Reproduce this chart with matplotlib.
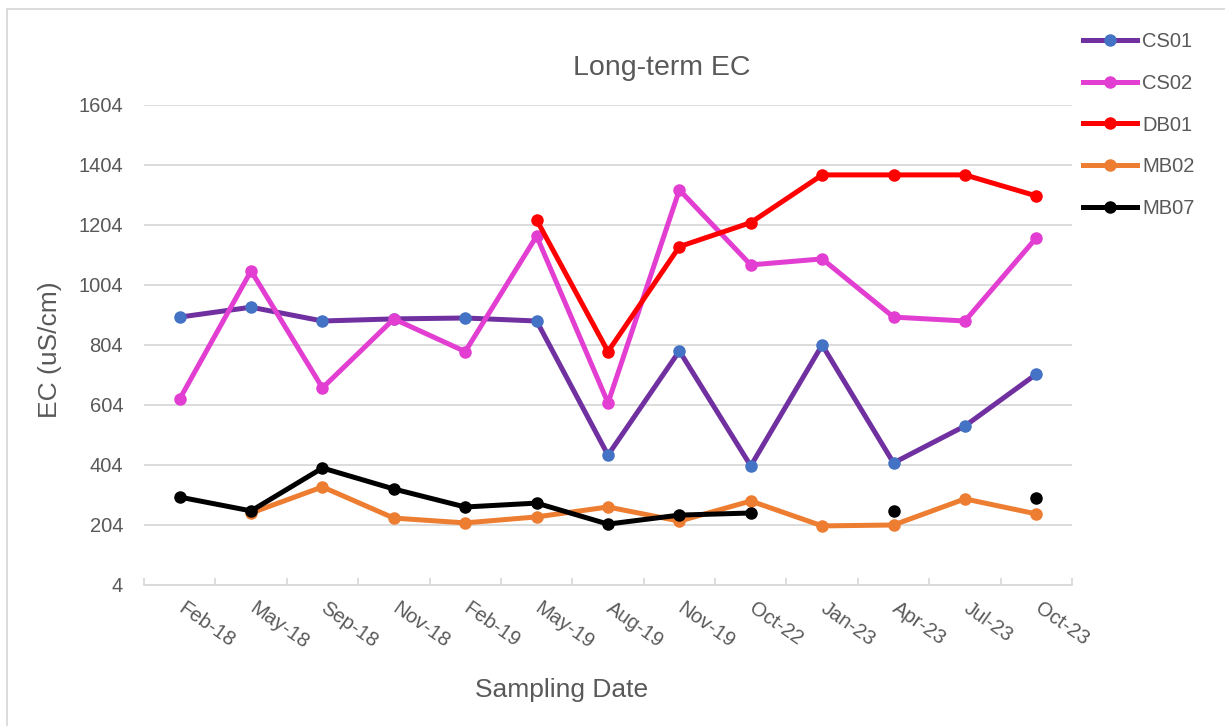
import numpy as np
import matplotlib
matplotlib.use('Agg')
from matplotlib import pyplot as plt
from matplotlib.lines import Line2D
import matplotlib.transforms as mtransforms

nan = np.nan

dates = ['Feb-18', 'May-18', 'Sep-18', 'Nov-18', 'Feb-19', 'May-19', 'Aug-19',
         'Nov-19', 'Oct-22', 'Jan-23', 'Apr-23', 'Jul-23', 'Oct-23']
cs01 = [897, 930, 884, 891, 894, 884, 437, 784, 401, 804, 411, 534, 707]
cs02 = [624, 1051, 661, 891, 782, 1167, 611, 1321, 1071, 1091, 897, 884, 1161]
db01 = [nan, nan, nan, nan, nan, 1221, 782, 1132, 1212, 1371, 1371, 1371, 1301]
mb02 = [nan, 244, 331, 227, 211, 231, 264, 217, 284, 201, 204, 291, 241]
mb07 = [297, 251, 394, 324, 264, 277, 207, 237, 244, nan, 251, nan, 294]
yticks = [4, 204, 404, 604, 804, 1004, 1204, 1404, 1604]

plt.rcParams['font.family'] = ['Liberation Sans', 'DejaVu Sans']
grey = '#595959'
gridc = '#D9D9D9'

W, H = 1225, 726
fig = plt.figure(figsize=(W / 100, H / 100), dpi=100)
ax = fig.add_axes([144 / W, 1 - 585 / H, (1072 - 144) / W, (585 - 105) / H])

x = np.arange(len(dates))
lw = 3.6
ms = 8
ax.plot(x, cs01, color='#7030A0', lw=lw, marker='o', ms=ms, mfc='#4472C4', mec='#4472C4', label='CS01')
ax.plot(x, cs02, color='#E23ED2', lw=lw, marker='o', ms=ms, label='CS02')
ax.plot(x, db01, color='#FF0000', lw=lw, marker='o', ms=ms, label='DB01')
ax.plot(x, mb02, color='#ED7D31', lw=lw, marker='o', ms=ms, label='MB02')
ax.plot(x, mb07, color='#000000', lw=lw, marker='o', ms=ms, label='MB07')

ax.set_xlim(-0.5, len(dates) - 0.5)
ax.set_ylim(4, 1604)
ax.set_yticks(yticks)
ax.set_yticklabels([str(v) for v in yticks])
ax.set_xticks(x)
ax.set_xticklabels(dates)
ax.set_xticks(np.arange(-0.5, len(dates), 1), minor=True)

for s in ['top', 'right', 'left']:
    ax.spines[s].set_visible(False)
ax.spines['bottom'].set_color(gridc)
ax.spines['bottom'].set_linewidth(1.3)
ax.grid(axis='y', color=gridc, lw=1.3)
ax.set_axisbelow(True)

ax.tick_params(axis='y', length=0, pad=15, labelsize=14.5, labelcolor=grey)
ax.tick_params(axis='x', which='major', length=0, pad=10, labelsize=14.5, labelcolor=grey)
ax.tick_params(axis='x', which='minor', direction='in', length=5, width=1.3, color=gridc)
shift = mtransforms.ScaledTranslation(0.06, 0, fig.dpi_scale_trans)
for lab in ax.get_xticklabels():
    lab.set_rotation(-35)
    lab.set_ha('left')
    lab.set_va('top')
    lab.set_rotation_mode('anchor')
    lab.set_transform(lab.get_transform() + shift)

fig.text(662 / W, 1 - 75 / H, 'Long-term EC', ha='center', va='baseline', fontsize=20.5, color=grey)
fig.text(562 / W, 1 - 697 / H, 'Sampling Date', ha='center', va='baseline', fontsize=19, color=grey)
fig.text(50 / W, 1 - 350 / H, 'EC (uS/cm)', ha='center', va='center', rotation=90, fontsize=19, color=grey)

leg = ax.legend(loc='upper left', bbox_to_anchor=(1083 / W, 1 - 32 / H), bbox_transform=fig.transFigure,
                frameon=False, borderpad=0, borderaxespad=0, handlelength=2.7, handletextpad=0.25,
                labelspacing=1.13, fontsize=14.5)
for t in leg.get_texts():
    t.set_color(grey)

# outer chart border (left and top edges visible)
fig.add_artist(Line2D([7 / W, 7 / W], [0, 1 - 9 / H], color=gridc, lw=1.3))
fig.add_artist(Line2D([7 / W, 1], [1 - 9 / H, 1 - 9 / H], color=gridc, lw=1.3))

fig.savefig('out.png', dpi=100)
